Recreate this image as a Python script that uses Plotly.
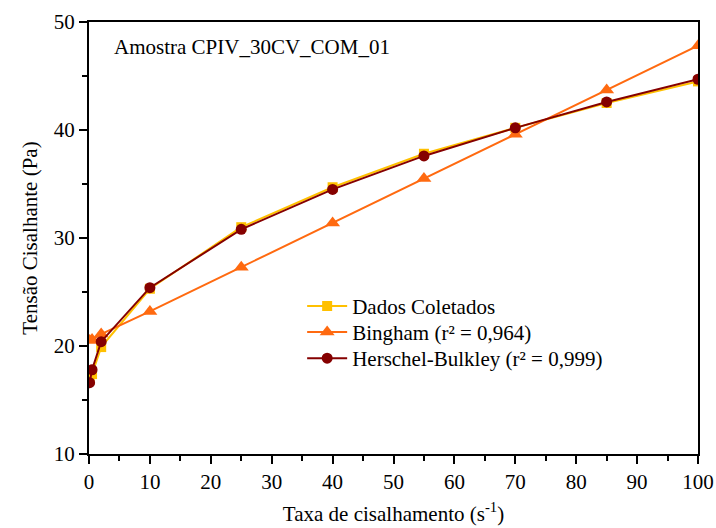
import plotly.graph_objects as go

# Shear rate (1/s)
taxa = [0.1, 0.5, 2, 10, 25, 40, 55, 70, 85, 100]

# Shear stress (Pa): measured data and fitted models
dados_coletados = [16.9, 17.4, 19.9, 25.3, 31.0, 34.7, 37.8, 40.2, 42.5, 44.5]
bingham = [20.5, 20.6, 21.1, 23.2, 27.3, 31.4, 35.5, 39.6, 43.7, 47.8]
herschel_bulkley = [16.6, 17.8, 20.4, 25.4, 30.8, 34.5, 37.6, 40.2, 42.6, 44.7]

x_ticks = [0, 10, 20, 30, 40, 50, 60, 70, 80, 90, 100]
y_ticks = [10, 20, 30, 40, 50]
minor_step = 5

FONT = "Liberation Serif, Times New Roman, serif"
SIZE = 21

fig = go.Figure()
fig.add_trace(go.Scatter(
    x=taxa, y=dados_coletados, name="Dados Coletados",
    mode="lines+markers", legend="legend", showlegend=True,
    line=dict(color="#FFC000", width=2),
    marker=dict(symbol="square", size=10, color="#FFC000"),
))
fig.add_trace(go.Scatter(
    x=taxa, y=bingham, name="Bingham (r² = 0,964)",
    mode="lines+markers", legend="legend2", showlegend=True,
    line=dict(color="#FF6A10", width=2),
    marker=dict(symbol="triangle-up", size=13, color="#FF6A10"),
))
fig.add_trace(go.Scatter(
    x=taxa, y=herschel_bulkley, name="Herschel-Bulkley (r² = 0,999)",
    mode="lines+markers", legend="legend3", showlegend=True,
    line=dict(color="#850000", width=2),
    marker=dict(symbol="circle", size=11, color="#850000"),
))

axis_common = dict(
    showgrid=False, zeroline=False, automargin=False,
    showline=True, linecolor="black", linewidth=2, mirror=True,
    ticks="outside", ticklen=8, tickwidth=1.5, tickcolor="black",
    tickfont=dict(family=FONT, size=SIZE, color="black"),
    minor=dict(tickmode="linear", tick0=0, dtick=minor_step, ticks="outside",
               ticklen=5, tickwidth=1.5, tickcolor="black", showgrid=False),
)

fig.update_xaxes(
    range=[0, 100], tickmode="array", tickvals=x_ticks,
    title=dict(text="Taxa de cisalhamento (s<sup>-1</sup>)",
               font=dict(family=FONT, size=SIZE, color="black"), standoff=13),
    **axis_common,
)
fig.update_yaxes(
    range=[10, 50], tickmode="array", tickvals=y_ticks,
    title=dict(text="Tensão Cisalhante (Pa)",
               font=dict(family=FONT, size=SIZE, color="black"), standoff=10),
    **axis_common,
)

fig.add_annotation(
    text="Amostra CPIV_30CV_COM_01",
    xref="paper", yref="paper", x=0.037, y=0.942,
    xanchor="left", yanchor="middle", showarrow=False,
    font=dict(family=FONT, size=SIZE, color="black"),
)

legend_style = dict(
    x=0.35, xanchor="left", yanchor="top",
    bgcolor="rgba(0,0,0,0)",
    font=dict(family=FONT, size=SIZE, color="black"),
    itemwidth=40,
)

fig.update_layout(
    width=716, height=528,
    margin=dict(l=89, r=18, t=22, b=74),
    paper_bgcolor="white", plot_bgcolor="white",
    font=dict(family=FONT, color="black"),
    showlegend=True,
    legend=dict(y=0.389, **legend_style),
    legend2=dict(y=0.329, **legend_style),
    legend3=dict(y=0.2685, **legend_style),
)

fig.write_html("out.html")
